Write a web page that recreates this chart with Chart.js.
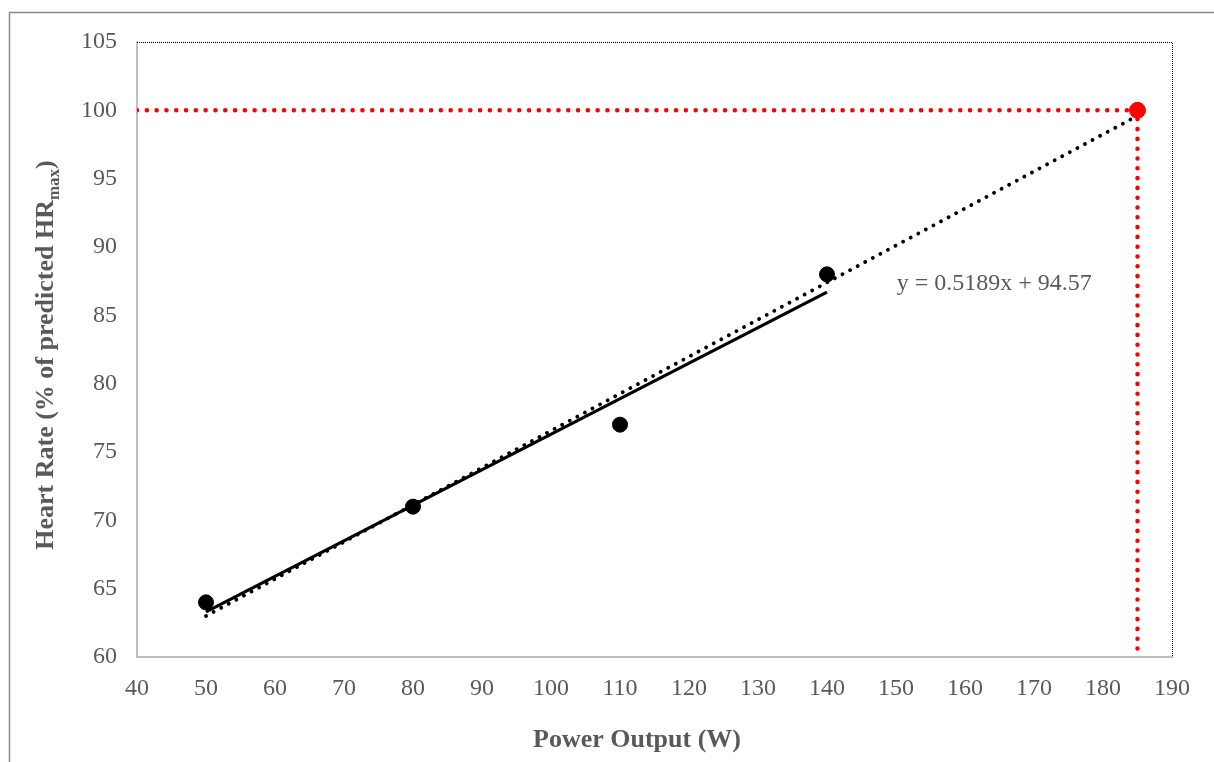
<!DOCTYPE html>
<html>
<head>
<meta charset="utf-8">
<script src="https://cdn.jsdelivr.net/npm/chart.js@4.4.1/dist/chart.umd.min.js"></script>
<style>
  html, body { margin: 0; padding: 0; background: #fff; }
  #wrap { width: 1214px; height: 762px; position: relative; }
</style>
</head>
<body>
<div id="wrap"><canvas id="hrChart" width="1214" height="762"></canvas></div>
<script>
// measured points (power W, HR %)
var powerOutput = [50, 80, 110, 140];
var heartRate = [64, 71, 77, 88];

// trendline drawn over the measured range
var trendX = [50, 140];
var trendY = [63.3, 86.7];

// dotted extrapolation up to predicted max
var extrapX = [50, 185];
var extrapY = [63, 99.6];

// predicted HRmax point and guide lines
var maxPoint = { x: 185, y: 100 };
var guideX = [40, 185, 185];
var guideY = [100, 100, 60];

var xTicks = { min: 40, max: 190, step: 10 };
var yTicks = { min: 60, max: 105, step: 5 };

var equationText = 'y = 0.5189x + 94.57';
var equationAt = { x: 150.1, y: 87.3 };

var xTitle = 'Power Output (W)';
var yTitleMain = 'Heart Rate (% of predicted HR';
var yTitleSub = 'max';
var yTitleEnd = ')';

(function () {
  var SERIF = '"Liberation Serif", "Times New Roman", serif';
  var GREY = '#595959';

  function pairs(xs, ys) {
    return xs.map(function (x, i) { return { x: x, y: ys[i] }; });
  }

  var decorPlugin = {
    id: 'decor',
    beforeDraw: function (chart) {
      var ctx = chart.ctx;
      ctx.save();
      ctx.strokeStyle = '#8c8c8c';
      ctx.lineWidth = 1.5;
      ctx.beginPath();
      ctx.moveTo(9.5, 762);
      ctx.lineTo(9.5, 12.5);
      ctx.lineTo(1214, 12.5);
      ctx.stroke();
      ctx.restore();
    },
    afterDatasetsDraw: function (chart) {
      var ctx = chart.ctx;
      var a = chart.chartArea;
      var xs = chart.scales.x, ys = chart.scales.y;
      ctx.save();

      // dotted plot border (top and right)
      ctx.strokeStyle = '#000';
      ctx.lineWidth = 1;
      ctx.setLineDash([1, 1]);
      ctx.beginPath();
      ctx.moveTo(a.left, a.top + 0.5);
      ctx.lineTo(a.right + 0.5, a.top + 0.5);
      ctx.lineTo(a.right + 0.5, a.bottom);
      ctx.stroke();
      ctx.setLineDash([]);

      // equation label
      ctx.fillStyle = GREY;
      ctx.font = '24px ' + SERIF;
      ctx.textAlign = 'left';
      ctx.textBaseline = 'middle';
      ctx.fillText(equationText, xs.getPixelForValue(equationAt.x), ys.getPixelForValue(equationAt.y));

      // x title
      ctx.font = 'bold 26px ' + SERIF;
      ctx.textAlign = 'center';
      ctx.fillText(xTitle, 637, 740);

      // y title with subscript
      var mainFont = 'bold 26px ' + SERIF;
      var subFont = 'bold 17px ' + SERIF;
      ctx.font = mainFont;
      var w1 = ctx.measureText(yTitleMain).width;
      var w3 = ctx.measureText(yTitleEnd).width;
      ctx.font = subFont;
      var w2 = ctx.measureText(yTitleSub).width;
      var total = w1 + w2 + w3;
      ctx.translate(44, 355);
      ctx.rotate(-Math.PI / 2);
      ctx.textAlign = 'left';
      ctx.textBaseline = 'alphabetic';
      var x0 = -total / 2;
      ctx.font = mainFont;
      ctx.fillText(yTitleMain, x0, 9);
      ctx.font = subFont;
      ctx.fillText(yTitleSub, x0 + w1, 15);
      ctx.font = mainFont;
      ctx.fillText(yTitleEnd, x0 + w1 + w2, 9);
      ctx.restore();
    }
  };

  var ctx = document.getElementById('hrChart').getContext('2d');
  new Chart(ctx, {
    type: 'scatter',
    data: {
      datasets: [
        {
          label: 'Guide', data: pairs(guideX, guideY), showLine: true,
          borderColor: '#ff0000', borderWidth: 4.5, borderDash: [0.1, 9.7], borderCapStyle: 'round',
          pointRadius: 0, fill: false, order: 5
        },
        {
          label: 'Extrapolation', data: pairs(extrapX, extrapY), showLine: true,
          borderColor: '#000', borderWidth: 3.8, borderDash: [0.1, 8.5], borderCapStyle: 'round',
          pointRadius: 0, fill: false, order: 4
        },
        {
          label: 'Trend', data: pairs(trendX, trendY), showLine: true,
          borderColor: '#000', borderWidth: 3.2, pointRadius: 0, fill: false, order: 3
        },
        {
          label: 'Measured', data: pairs(powerOutput, heartRate),
          backgroundColor: '#000', borderColor: '#000', pointRadius: 7.5, order: 2
        },
        {
          label: 'Predicted max', data: [maxPoint],
          backgroundColor: '#ff0000', borderColor: '#ff0000', pointRadius: 8, order: 1
        }
      ]
    },
    options: {
      responsive: false,
      animation: false,
      layout: { padding: { top: 42, right: 42, left: 0, bottom: 0 } },
      plugins: { legend: { display: false }, tooltip: { enabled: false } },
      scales: {
        x: {
          type: 'linear', min: xTicks.min, max: xTicks.max,
          afterFit: function (s) { s.height = 105; },
          grid: { display: false, drawTicks: false },
          border: { color: '#bfbfbf', width: 2 },
          ticks: { stepSize: xTicks.step, color: GREY, padding: 17, font: { family: SERIF, size: 24 } }
        },
        y: {
          type: 'linear', min: yTicks.min, max: yTicks.max,
          afterFit: function (s) { s.width = 137; },
          grid: { display: false, drawTicks: false },
          border: { color: '#bfbfbf', width: 2 },
          ticks: { stepSize: yTicks.step, color: GREY, padding: 20, font: { family: SERIF, size: 24 } }
        }
      }
    },
    plugins: [decorPlugin]
  });
})();
</script>
</body>
</html>
